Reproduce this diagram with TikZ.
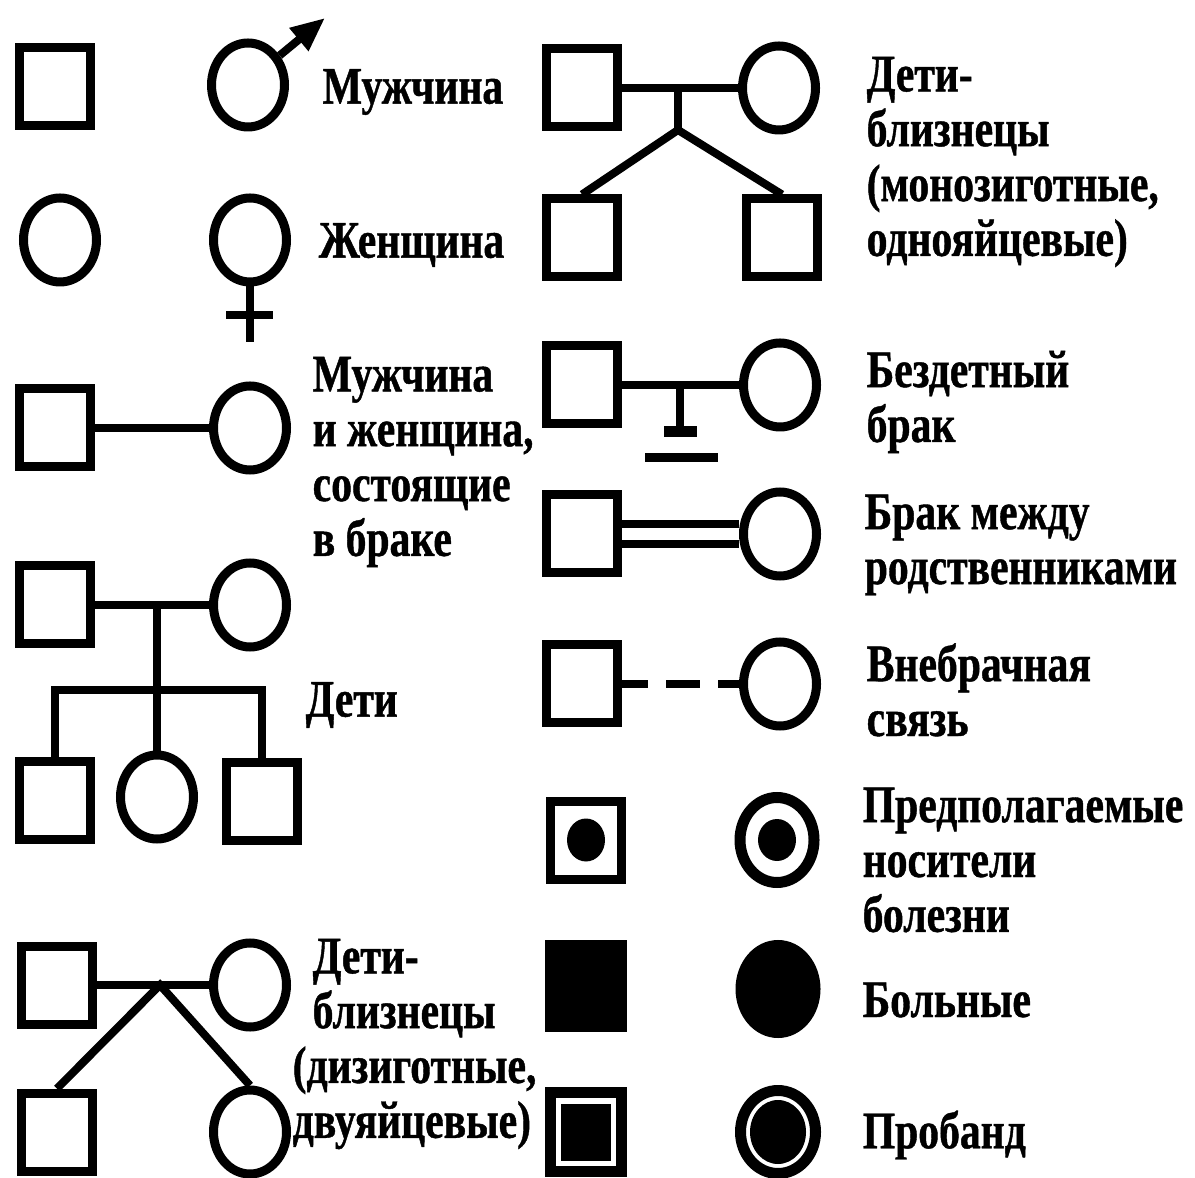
\documentclass[tikz,border=0pt]{standalone}
\usepackage{fontspec}
\usetikzlibrary{shapes.geometric,arrows.meta}
\newfontfamily\legendfont{Liberation Serif}[FakeStretch=0.79, BoldFeatures={FakeBold=0.8}]

\begin{document}
\begin{tikzpicture}[x=0.1mm,y=0.1mm]
\tikzstyle{every node}+=[inner sep=0pt]
\tikzstyle{man}=[draw, line width=0.9mm, minimum width=7.1mm, minimum height=7.8mm]
\tikzstyle{woman}=[draw, ellipse, line width=0.9mm, minimum width=7.3mm, minimum height=8.4mm]
\tikzstyle{dot}=[ellipse, fill=black]
\tikzstyle{tie}=[line width=0.8mm]
\tikzstyle{legend}=[anchor=west, align=left, font=\legendfont\bfseries\fontsize{15}{15.6}\selectfont]
\useasboundingbox (0,0) rectangle (1195,-1178);
\node [man] (sq1) at (55,-87) {};
\node [woman] (he) at (248,-85) {};
\coordinate (he-tip) at (325,-18);
\draw [tie, -{Triangle[length=3.4mm,width=2.8mm]}] (he.43) -- (he-tip);
\node [legend] (t-he) at (322,-92) {Мужчина};
\node [woman] (ci2) at (60,-240) {};
\node [woman] (she) at (250,-240) {};
\coordinate (she-end) at (250,-342);
\coordinate (she-l) at (226,-315);
\coordinate (she-r) at (273,-315);
\draw [tie] (she) -- (she-end);
\draw [tie] (she-l) -- (she-r);
\node [legend] (t-she) at (318,-245) {Женщина};
\node [man] (mf) at (55,-428) {};
\node [woman] (mw) at (250,-428) {};
\draw [tie] (mf) -- (mw);
\node [legend] (t-m) at (312,-462) {Мужчина\\и женщина,\\состоящие\\в браке};
\node [man] (cf) at (55,-605) {};
\node [woman] (cw) at (250,-605) {};
\node [man] (c1) at (55,-800) {};
\node [woman] (c2) at (157,-797) {};
\node [man] (c3) at (262,-801) {};
\coordinate (cj) at (157,-605);
\coordinate (cs) at (157,-690);
\draw [tie] (cf) -- (cw);
\draw [tie] (cj) -- (cs) -- (c2);
\draw [tie] (c1) |- (cs) -| (c3);
\node [legend] (t-c) at (305,-705) {Дети};
\node [man] (df) at (57,-985) {};
\node [woman] (dw) at (250,-985) {};
\node [man] (d1) at (57,-1132) {};
\node [woman] (d2) at (250,-1132) {};
\coordinate (dj) at (160,-985);
\draw [tie] (df) -- (dw);
\draw [tie] (d1.north) -- (dj) -- (d2.north);
\node [legend] (t-d) at (292,-1044) {\hspace*{2mm}Дети-\\\hspace*{2mm}близнецы\\(дизиготные,\\двуяйцевые)};
\node [man] (mzf) at (582,-88) {};
\node [woman] (mzw) at (779,-88) {};
\node [man] (mz1) at (582,-238) {};
\node [man] (mz2) at (782,-238) {};
\coordinate (mzj) at (678,-88);
\coordinate (mzs) at (678,-130);
\draw [tie] (mzf) -- (mzw);
\draw [tie] (mzj) -- (mzs);
\draw [tie] (mz1.north) -- (mzs) -- (mz2.north);
\node [legend] (t-mz) at (866,-162) {Дети-\\близнецы\\(монозиготные,\\однояйцевые)};
\node [man] (bf) at (582,-385) {};
\node [woman] (bw) at (780,-385) {};
\coordinate (bj) at (680,-385);
\coordinate (bs) at (680,-432);
\coordinate (bs-l) at (664,-432);
\coordinate (bs-r) at (697,-432);
\coordinate (bb-l) at (645,-458);
\coordinate (bb-r) at (718,-458);
\draw [tie] (bf) -- (bw);
\draw [tie] (bj) -- (bs);
\draw [line width=1.1mm] (bs-l) -- (bs-r);
\draw [line width=0.9mm] (bb-l) -- (bb-r);
\node [legend] (t-b) at (866,-402) {Бездетный\\брак};
\node [man] (rf) at (582,-534) {};
\node [woman] (rw) at (780,-534) {};
\draw [tie] ([yshift=1mm]rf.east) -- ([yshift=1mm]rw.west);
\draw [tie] ([yshift=-1mm]rf.east) -- ([yshift=-1mm]rw.west);
\node [legend] (t-r) at (864,-545) {Брак между\\родственниками};
\node [man] (ef) at (582,-684) {};
\node [woman] (ew) at (780,-684) {};
\draw [tie, dash pattern=on 2.6mm off 1.8mm on 3.4mm off 1.8mm on 3mm] (ef) -- (ew);
\node [legend] (t-e) at (866,-690) {Внебрачная\\связь};
\node [man] (kf) at (586,-840) {};
\node [dot, minimum width=3.8mm, minimum height=4.3mm] (kfd) at (kf) {};
\node [woman, line width=1.1mm, minimum width=7.4mm, minimum height=8.5mm] (kw) at (777,-840) {};
\node [dot, minimum width=3.8mm, minimum height=4.2mm] (kwd) at (kw) {};
\node [legend] (t-k) at (862,-860) {Предполагаемые\\носители\\болезни};
\node [man, fill=black, minimum width=7.3mm, minimum height=8.3mm] (af) at (586,-986) {};
\node [woman, fill=black, minimum width=7.6mm, minimum height=8.9mm] (aw) at (778,-989) {};
\node [legend] (t-a) at (862,-1000) {Больные};
\node [man, line width=1.1mm, minimum width=7.1mm, minimum height=7.9mm] (pf) at (586,-1132) {};
\node [fill=black, minimum width=5mm, minimum height=5.7mm] (pfi) at (pf) {};
\node [woman, line width=1.1mm, minimum width=7.5mm, minimum height=8.3mm] (pw) at (778,-1132) {};
\node [dot, minimum width=5.6mm, minimum height=6.4mm] (pwi) at (pw) {};
\node [legend] (t-p) at (862,-1135) {Пробанд};
\end{tikzpicture}
\end{document}
